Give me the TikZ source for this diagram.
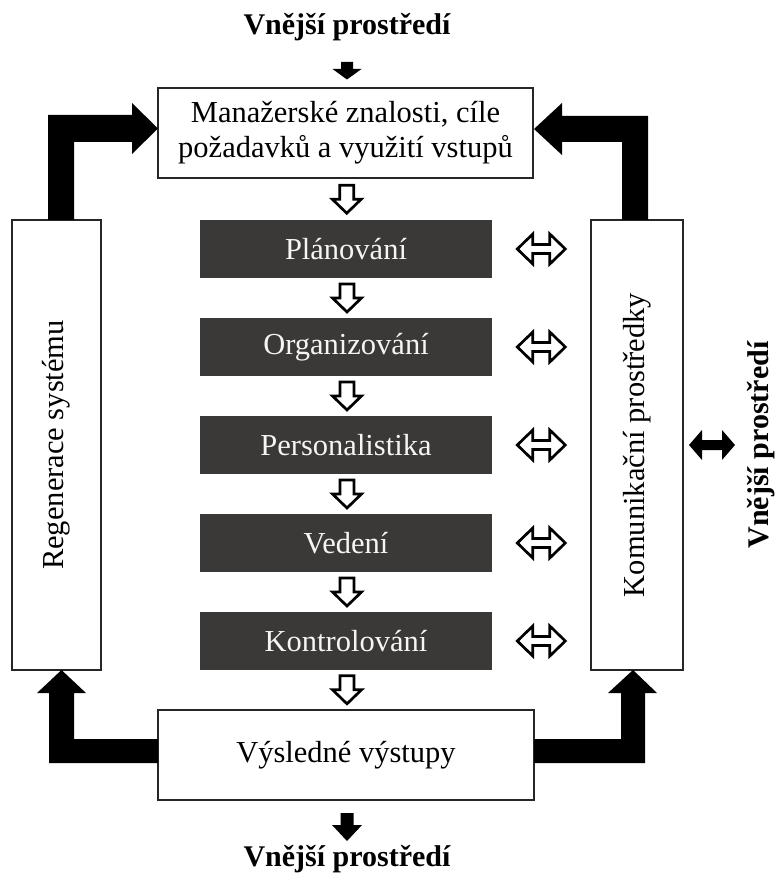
\documentclass[tikz,border=0pt]{standalone}
\usepackage{fontspec}
\setmainfont{Liberation Serif}
\usetikzlibrary{calc}
\definecolor{darkbox}{RGB}{59,57,55}
\definecolor{lighttext}{RGB}{245,245,245}
\begin{document}
\begin{tikzpicture}[x=1pt,y=-1pt,
  box/.style={draw=black!85,line width=1.2pt,fill=white,inner sep=0pt,
    font=\fontsize{30.5}{35}\selectfont,align=center},
  stage/.style={fill=darkbox,draw=none,text=lighttext,inner sep=0pt,
    minimum width=292pt,minimum height=58pt,font=\fontsize{30.5}{35}\selectfont},
  ext/.style={font=\bfseries\fontsize{30}{35}\selectfont,inner sep=0pt},
  hollow/.style={draw=black,line width=2.7pt,fill=white,line join=miter},
  solidarrow/.style={fill=black,draw=none},
  downhollow/.pic={\draw[hollow] (-7,-14) -- (7,-14) -- (7,0) -- (14.5,0) -- (0,14) -- (-14.5,0) -- (-7,0) -- cycle;},
  twohollow/.pic={\draw[hollow] (-24,0) -- (-8.5,-15) -- (-8.5,-4.5) -- (8.5,-4.5) -- (8.5,-15) -- (24,0) -- (8.5,15) -- (8.5,4.5) -- (-8.5,4.5) -- (-8.5,15) -- cycle;},
  twosolid/.pic={\fill[solidarrow] (-23,0) -- (-10,-15) -- (-10,-5) -- (10,-5) -- (10,-15) -- (23,0) -- (10,15) -- (10,5) -- (-10,5) -- (-10,15) -- cycle;}
]
\useasboundingbox (0,0) rectangle (774,874);

% main boxes
\node[box,minimum width=375pt,minimum height=90pt] (goals) at (345.5,133) {Manažerské znalosti, cíle\\požadavků a využití vstupů};
\node[stage] (plan) at (346,249) {Plánování};
\node[stage] (org) at (346,347) {Organizování};
\node[stage] (pers) at (346,445) {Personalistika};
\node[stage] (lead) at (346,543) {Vedení};
\node[stage] (ctrl) at (346,641) {Kontrolování};
\node[box,minimum width=376pt,minimum height=90pt] (out) at (346,755) {Výsledné výstupy};
\node[box,rotate=90,minimum width=450pt,minimum height=89pt] (regen) at (56.5,445) {Regenerace systému};
\node[box,rotate=90,minimum width=450pt,minimum height=92pt] (comm) at (637,445) {Komunikační prostředky};

% external environment labels
\node[ext,anchor=base] (envtop) at (347,35) {Vnější prostředí};
\node[ext,anchor=base] (envbot) at (347,866) {Vnější prostředí};
\node[ext,anchor=base,rotate=90] (envright) at (768,445) {Vnější prostředí};

% hollow down arrows between stages
\pic at ($(goals.south)!0.5!(plan.north)+(1,0)$) {downhollow};
\pic at ($(plan.south)!0.5!(org.north)+(1,0)$) {downhollow};
\pic at ($(org.south)!0.5!(pers.north)+(1,0)$) {downhollow};
\pic at ($(pers.south)!0.5!(lead.north)+(1,0)$) {downhollow};
\pic at ($(lead.south)!0.5!(ctrl.north)+(1,0)$) {downhollow};
\pic at ($(ctrl.south)!0.5!(out.north)+(1,0)$) {downhollow};

% double hollow arrows to communication
\foreach \s in {plan,org,pers,lead,ctrl}
  \pic at ($(\s.east)!0.5!(\s.east -| comm.north)$) {twohollow};

% right external double arrow
\pic at (712,445) {twosolid};

% small black arrows
\fill[solidarrow] (341,62) -- (353,62) -- (353,69) -- (361.5,69) -- (347,79.5) -- (332.5,69) -- (341,69) -- cycle;
\fill[solidarrow] (340.5,813) -- (353.5,813) -- (353.5,825) -- (362,825) -- (347,841) -- (332,825) -- (340.5,825) -- cycle;

% thick black L arrows
\fill[solidarrow] (48,220) -- (48,115) -- (132,115) -- (132,103) -- (158,128.5) -- (132,154) -- (132,142) -- (74,142) -- (74,220) -- cycle;
\fill[solidarrow] (648,220) -- (648,116) -- (562,116) -- (562,103) -- (534,129) -- (562,155) -- (562,142) -- (622,142) -- (622,220) -- cycle;
\fill[solidarrow] (158,739) -- (74,739) -- (74,693) -- (86,693) -- (61.5,670) -- (37,693) -- (49,693) -- (49,763) -- (158,763) -- cycle;
\fill[solidarrow] (534,739) -- (621,739) -- (621,693) -- (608,693) -- (633,670) -- (657,693) -- (645,693) -- (645,763) -- (534,763) -- cycle;
\end{tikzpicture}
\end{document}
